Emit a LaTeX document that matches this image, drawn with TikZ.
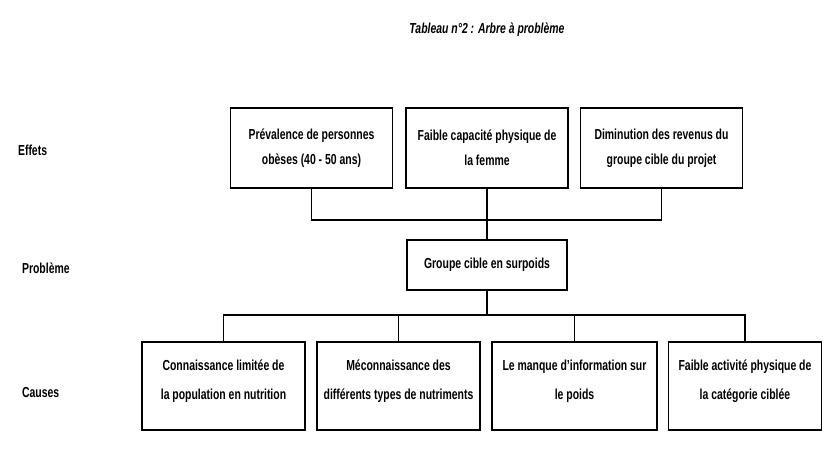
\documentclass[tikz,border=0pt]{standalone}
\usepackage{fontspec}
\setmainfont{Liberation Sans}[FakeStretch=0.72]
\usepackage{tikz}

\begin{document}
\begin{tikzpicture}[x=1pt, y=-1pt, line width=1.5pt,
    box/.style={draw, align=center, inner sep=2pt, font=\fontsize{14.5}{25}\selectfont\bfseries},
    effet/.style={box, minimum width=162pt, minimum height=80pt},
    cause/.style={box, minimum height=88pt, font=\fontsize{14.5}{29}\selectfont\bfseries},
    niveau/.style={anchor=west, font=\fontsize{14.5}{16}\selectfont\bfseries}
    ]
    \useasboundingbox (0,0) rectangle (823,448);
    \node (titre) at (487,30) {\fontsize{14.5}{16}\selectfont\bfseries\itshape Tableau n°2 : Arbre à problème};

    \node[niveau] (effets) at (14,150) {Effets};
    \node[niveau] (probleme) at (18,268) {Problème};
    \node[niveau] (causes) at (18,393) {Causes};

    % effets
    \node[effet] (e1) at (311.5,148) {Prévalence de personnes\\obèses (40 - 50 ans)};
    \node[effet] (e2) at (487,148) {Faible capacité physique de\\la femme};
    \node[effet] (e3) at (661.5,148) {Diminution des revenus du\\groupe cible du projet};

    % probleme central
    \node[box, minimum width=160pt, minimum height=50pt] (p) at (487,265) {Groupe cible en surpoids};

    % causes
    \node[cause, minimum width=163pt] (c1) at (223.5,386) {Connaissance limitée de\\la population en nutrition\\[-17pt]};
    \node[cause, minimum width=163pt] (c2) at (398.5,386) {Méconnaissance des\\différents types de nutriments\\[-17pt]};
    \node[cause, minimum width=165pt] (c3) at (574.5,386) {Le manque d'information sur\\le poids\\[-17pt]};
    \node[cause, minimum width=153pt] (c4) at (745,386) {Faible activité physique de\\la catégorie ciblée\\[-17pt]};

    \coordinate (haut) at (487,220);
    \coordinate (bas) at (487,315);
    \draw (e1.south) -- (e1.south |- haut) -- (e3.south |- haut) -- (e3.south);
    \draw (e2.south) -- (p.north);
    \draw (p.south) -- (bas);
    \draw (c1.north) -- (c1.north |- bas) -- (c4.north |- bas) -- (c4.north);
    \draw (c2.north) -- (c2.north |- bas);
    \draw (c3.north) -- (c3.north |- bas);
  \end{tikzpicture}
\end{document}
